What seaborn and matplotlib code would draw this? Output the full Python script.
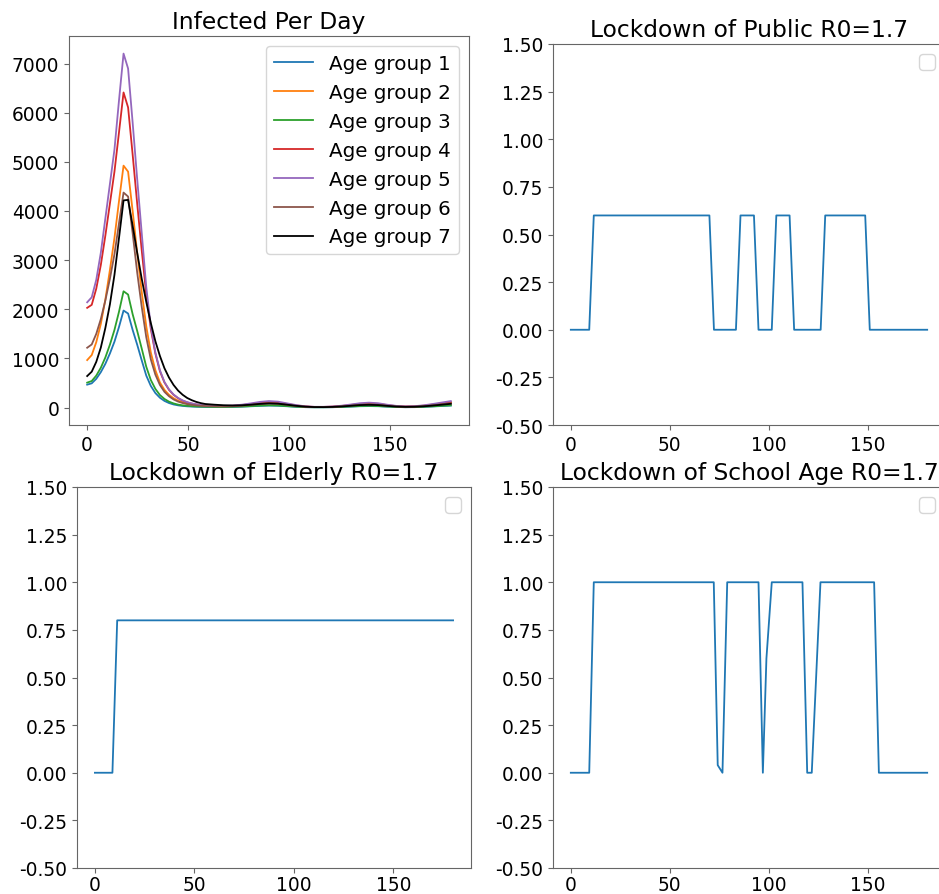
import numpy as np
import pandas as pd
import seaborn as sns
import matplotlib.pyplot as plt

# days sampled for the infection curves
early_days = [0, 2.25, 4.5, 6.75, 9, 11.25, 13.5, 15.75, 18, 20.25, 22.5, 24.75, 27, 29.25,
              31.5, 33.75, 36, 38.25, 40.5, 42.75, 45, 47.25, 49.5, 51.75, 54, 56.25, 58.5]
late_days = [63, 67.5, 72, 76.5, 81, 85.5, 90, 94.5, 99, 103.5, 108, 112.5, 117, 121.5,
             126, 130.5, 135, 139.5, 144, 148.5, 153, 157.5, 162, 166.5, 171, 175.5, 180]
days = early_days + late_days

group_1 = [466, 493, 585, 720, 890, 1100, 1340, 1640, 1974, 1913, 1580, 1280, 960, 650,
           440, 295, 200, 135, 92, 63, 45, 33, 25, 20, 16, 14, 12,
           11, 11, 13, 18, 26, 34, 40, 36, 26, 15, 8, 5, 5, 7,
           12, 19, 27, 30, 27, 18, 11, 7, 8, 14, 22, 31, 40]
group_2 = [966, 1068, 1330, 1700, 2200, 2800, 3450, 4200, 4922, 4800, 4000, 3150, 2350, 1650,
           1120, 760, 510, 360, 260, 190, 140, 105, 80, 62, 48, 38, 32,
           27, 25, 29, 40, 59, 80, 92, 84, 60, 35, 18, 11, 11, 15,
           27, 43, 62, 70, 62, 41, 24, 17, 20, 32, 50, 71, 92]
group_3 = [507, 540, 650, 810, 1020, 1280, 1580, 1950, 2366, 2299, 1900, 1560, 1200, 830,
           560, 380, 255, 175, 120, 84, 60, 45, 35, 28, 23, 19, 17,
           14, 14, 16, 21, 30, 40, 46, 42, 30, 18, 9, 6, 6, 8,
           14, 22, 31, 35, 31, 21, 12, 8, 10, 16, 25, 36, 46]
group_4 = [2029, 2090, 2420, 2900, 3500, 4150, 4800, 5600, 6411, 6107, 5150, 4150, 3200, 2300,
           1600, 1100, 740, 510, 360, 260, 190, 140, 105, 80, 62, 50, 42,
           32, 31, 36, 50, 72, 97, 112, 102, 72, 43, 22, 13, 13, 19,
           32, 53, 75, 85, 75, 50, 29, 20, 24, 38, 61, 87, 112]
group_5 = [2142, 2244, 2600, 3150, 3850, 4550, 5250, 6250, 7202, 6898, 5800, 4650, 3550, 2450,
           1650, 1120, 760, 520, 370, 265, 195, 145, 110, 85, 66, 53, 44,
           36, 35, 42, 58, 85, 115, 132, 120, 85, 50, 25, 15, 15, 22,
           38, 62, 88, 100, 88, 58, 34, 24, 28, 45, 72, 102, 132]
group_6 = [1217, 1284, 1500, 1800, 2180, 2620, 3120, 3750, 4374, 4293, 3550, 2750, 2050, 1430,
           980, 670, 460, 320, 230, 165, 122, 92, 70, 55, 44, 36, 30,
           25, 23, 27, 37, 55, 74, 86, 78, 55, 32, 16, 10, 10, 14,
           25, 40, 57, 65, 57, 38, 22, 16, 18, 29, 47, 66, 86]
group_7 = [641, 730, 930, 1220, 1620, 2100, 2700, 3450, 4215, 4225, 3700, 3150, 2620, 2150,
           1720, 1350, 1050, 800, 610, 460, 345, 260, 195, 150, 115, 90, 72,
           58, 47, 42, 46, 58, 74, 84, 78, 58, 35, 18, 10, 9, 13,
           22, 36, 50, 56, 50, 34, 20, 14, 16, 25, 40, 58, 76]

groups = [group_1, group_2, group_3, group_4, group_5, group_6, group_7]
group_names = ['Age group {}'.format(i + 1) for i in range(7)]
group_colors = ['#1f77b4', '#ff7f0e', '#2ca02c', '#d62728', '#9467bd', '#8c564b', 'black']

# lockdown levels
public_days = [0, 9.3, 11.6, 70, 72.3, 83.4, 85.7, 92.5, 94.8, 101.5, 103.8, 110.5, 112.8,
               126.2, 128.5, 148.7, 151, 180]
public_level = [0, 0, 0.6, 0.6, 0, 0, 0.6, 0.6, 0, 0, 0.6, 0.6, 0, 0, 0.6, 0.6, 0, 0]

elderly_days = [0, 8.8, 11.2, 180]
elderly_level = [0, 0, 0.8, 0.8]

school_days = [0, 9.3, 11.6, 72.2, 74.2, 76.6, 79.0, 94.8, 97.0, 98.8, 101.5, 117.0, 119.4,
               121.7, 126.1, 153.2, 155.6, 180]
school_level = [0, 0, 1, 1, 0.04, 0, 1, 1, 0, 0.6, 1, 1, 0, 0, 1, 1, 0, 0]

plt.rcParams['axes.edgecolor'] = '#666666'
plt.rcParams['xtick.color'] = '#666666'
plt.rcParams['ytick.color'] = '#666666'
plt.rcParams['xtick.labelcolor'] = 'black'
plt.rcParams['ytick.labelcolor'] = 'black'

TICK = 13.4
LEG = 14.3
TITLE = 16.8

fig = plt.figure(figsize=(9.39, 8.95), dpi=100)


def box(l, t, r, b):
    return [l / 939, 1 - b / 895, (r - l) / 939, (b - t) / 895]


ax1 = fig.add_axes(box(69, 37, 469, 426))
ax2 = fig.add_axes(box(553, 45, 945, 426))
ax3 = fig.add_axes(box(77, 488, 471, 869))
ax4 = fig.add_axes(box(553, 488, 945, 869))

for vals, name, col in zip(groups, group_names, group_colors):
    sns.lineplot(x=days, y=vals, ax=ax1, color=col, label=name, linewidth=1.3)
ax1.set_ylim(-355, 7560)
ax1.set_xlim(-9, 189)
ax1.set_xticks([0, 50, 100, 150])
ax1.set_yticks(range(0, 7001, 1000))
ax1.set_title('Infected Per Day', fontsize=TITLE)
ax1.legend(loc='upper right', fontsize=LEG)

lock = [(ax2, public_days, public_level, 'Lockdown of Public R0=1.7'),
        (ax3, elderly_days, elderly_level, 'Lockdown of Elderly R0=1.7'),
        (ax4, school_days, school_level, 'Lockdown of School Age R0=1.7')]
for ax, d, lv, title in lock:
    sns.lineplot(x=d, y=lv, ax=ax, color='#1f77b4', linewidth=1.3)
    ax.set_ylim(-0.5, 1.5)
    ax.set_xlim(-9, 189)
    ax.set_xticks([0, 50, 100, 150])
    ax.set_yticks(np.arange(-0.5, 1.51, 0.25))
    ax.set_yticklabels(['{:.2f}'.format(v) for v in np.arange(-0.5, 1.51, 0.25)])
    ax.set_title(title, fontsize=TITLE)
    ax.legend(loc='upper right', fontsize=LEG)

for ax in [ax1, ax2, ax3, ax4]:
    ax.tick_params(labelsize=TICK)
    ax.set_xlabel('')
    ax.set_ylabel('')

# bottom row labels sit a bit tighter to the axis
for ax in [ax3, ax4]:
    ax.tick_params(axis='x', pad=1.5)

fig.savefig('out.png', dpi=100)
